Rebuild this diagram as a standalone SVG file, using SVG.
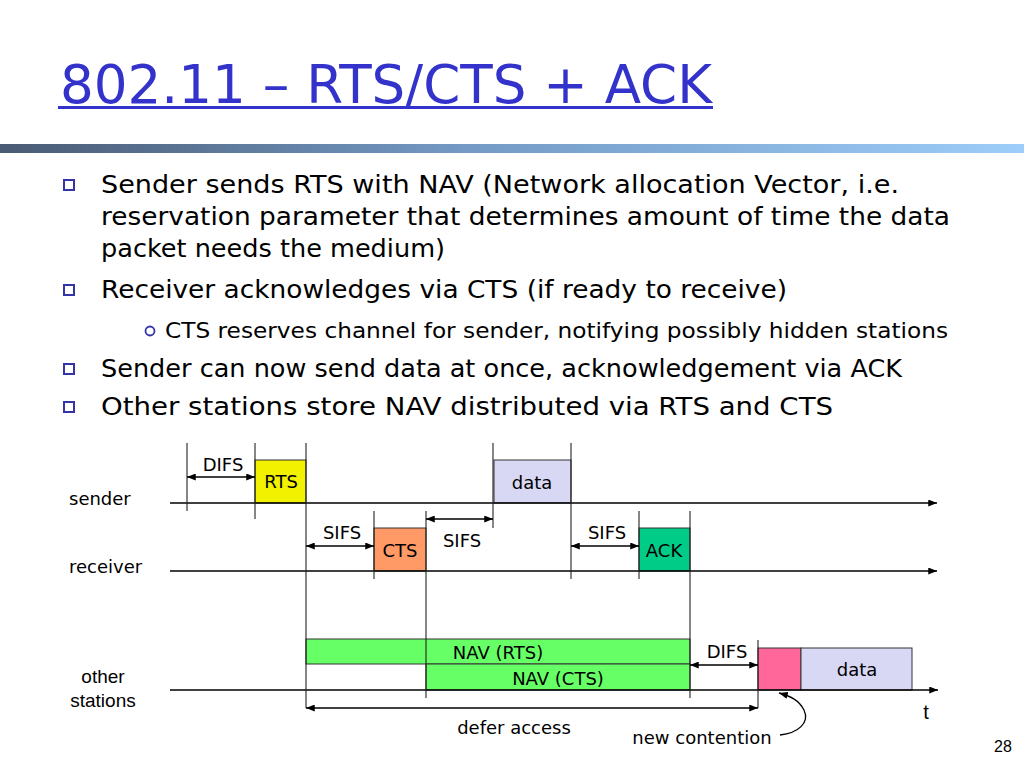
<svg xmlns="http://www.w3.org/2000/svg" width="1024" height="768" viewBox="0 0 1024 768">
<defs>
<linearGradient id="bar" x1="0" y1="0" x2="1" y2="0">
<stop offset="0" stop-color="#4A5B74"/>
<stop offset="0.45" stop-color="#7399C4"/>
<stop offset="1" stop-color="#9DCDFA"/>
</linearGradient>
<marker id="ah" viewBox="0 0 10 8" refX="10" refY="4" markerWidth="9" markerHeight="7" markerUnits="userSpaceOnUse" orient="auto-start-reverse">
<path d="M0,0 L10,4 L0,8 z" fill="#000"/>
</marker>
<style>
.c{font-family:"DejaVu Sans","Noto Sans",sans-serif;fill:#000}
.a{font-family:"Liberation Sans",Arial,sans-serif;fill:#000}
.b{font-size:25px}
.s{font-size:22px}
.l{font-size:18px}
.ln{stroke:#000;stroke-width:1.3;fill:none}
.v{stroke:#222;stroke-width:1.1;fill:none}
.box{stroke:#333;stroke-width:1}
.sq{fill:#fff;stroke:#3333AA;stroke-width:2}
</style>
</defs>
<rect width="1024" height="768" fill="#fff"/>
<g id="title">
<text x="60" y="103" font-family="DejaVu Sans,sans-serif" font-size="54" fill="#3333CC" textLength="652" lengthAdjust="spacingAndGlyphs">802.11 – RTS/CTS + ACK</text>
<rect x="58" y="106" width="655" height="3" fill="#3333CC"/>
</g>
<rect id="band" x="0" y="144" width="1024" height="9" fill="url(#bar)"/>
<g id="bullets">
<rect class="sq" x="64" y="180" width="10" height="10"/>
<text class="c b" x="101" y="193" textLength="798" lengthAdjust="spacingAndGlyphs">Sender sends RTS with NAV (Network allocation Vector, i.e.</text>
<text class="c b" x="101" y="225" textLength="849" lengthAdjust="spacingAndGlyphs">reservation parameter that determines amount of time the data</text>
<text class="c b" x="101" y="257" textLength="344" lengthAdjust="spacingAndGlyphs">packet needs the medium)</text>
<rect class="sq" x="64" y="285" width="10" height="10"/>
<text class="c b" x="101" y="298" textLength="686" lengthAdjust="spacingAndGlyphs">Receiver acknowledges via CTS (if ready to receive)</text>
<circle cx="150" cy="331" r="4.5" fill="#fff" stroke="#3333AA" stroke-width="1.8"/>
<text class="c s" x="165" y="338" textLength="783" lengthAdjust="spacingAndGlyphs">CTS reserves channel for sender, notifying possibly hidden stations</text>
<rect class="sq" x="64" y="364" width="10" height="10"/>
<text class="c b" x="101" y="377" textLength="801" lengthAdjust="spacingAndGlyphs">Sender can now send data at once, acknowledgement via ACK</text>
<rect class="sq" x="64" y="402" width="10" height="10"/>
<text class="c b" x="101" y="415" textLength="732" lengthAdjust="spacingAndGlyphs">Other stations store NAV distributed via RTS and CTS</text>
</g>
<g id="row-labels">
<text class="c l" x="69" y="505">sender</text>
<text class="c l" x="69" y="573">receiver</text>
<text class="a" font-size="19" x="103" y="683" text-anchor="middle">other</text>
<text class="a" font-size="19" x="103" y="707" text-anchor="middle">stations</text>
<text class="a" font-size="20" x="926" y="719" text-anchor="middle">t</text>
<text class="a" font-size="16" x="1003" y="752" text-anchor="middle">28</text>
</g>
<g id="frames">
<g id="nav-rts"><rect class="box" x="306" y="639" width="384" height="25" fill="#66FF66"/>
<text class="c l" x="498" y="659" text-anchor="middle">NAV (RTS)</text></g>
<g id="nav-cts"><rect class="box" x="426" y="664" width="264" height="26" fill="#66FF66"/>
<text class="c l" x="558" y="685" text-anchor="middle">NAV (CTS)</text></g>
<g id="rts"><rect class="box" x="255" y="460" width="51" height="43" fill="#F2F200"/>
<text class="c l" x="281" y="488" text-anchor="middle">RTS</text></g>
<g id="data1"><rect class="box" x="494" y="460" width="77" height="43" fill="#D8D8F4"/>
<text class="c l" x="532" y="489" text-anchor="middle">data</text></g>
<g id="cts"><rect class="box" x="374" y="528" width="52" height="43" fill="#FF9966"/>
<text class="c l" x="400" y="557" text-anchor="middle">CTS</text></g>
<g id="ack"><rect class="box" x="639" y="528" width="51" height="43" fill="#00CC88"/>
<text class="c l" x="664" y="557" text-anchor="middle">ACK</text></g>
<g id="contention"><rect class="box" x="758" y="648" width="43" height="42" fill="#FF6699"/></g>
<g id="data2"><rect class="box" x="801" y="648" width="111" height="42" fill="#D8D8F4"/>
<text class="c l" x="857" y="676" text-anchor="middle">data</text></g>
</g>
<g id="connectors">
<line class="ln" x1="170" y1="503" x2="937" y2="503" marker-end="url(#ah)"/>
<line class="ln" x1="170" y1="571" x2="937" y2="571" marker-end="url(#ah)"/>
<line class="ln" x1="170" y1="690" x2="938" y2="690" marker-end="url(#ah)"/>
<line class="v" x1="187" y1="443" x2="187" y2="511"/>
<line class="v" x1="255" y1="443" x2="255" y2="519"/>
<line class="v" x1="306" y1="443" x2="306" y2="708"/>
<line class="v" x1="374" y1="511" x2="374" y2="579"/>
<line class="v" x1="426" y1="511" x2="426" y2="698"/>
<line class="v" x1="493" y1="443" x2="493" y2="528"/>
<line class="v" x1="571" y1="443" x2="571" y2="579"/>
<line class="v" x1="639" y1="511" x2="639" y2="579"/>
<line class="v" x1="690" y1="511" x2="690" y2="698"/>
<line class="v" x1="758" y1="640" x2="758" y2="708"/>
<line class="ln" x1="187" y1="477" x2="255" y2="477" marker-start="url(#ah)" marker-end="url(#ah)"/>
<line class="ln" x1="306" y1="546" x2="374" y2="546" marker-start="url(#ah)" marker-end="url(#ah)"/>
<line class="ln" x1="426" y1="519" x2="493" y2="519" marker-start="url(#ah)" marker-end="url(#ah)"/>
<line class="ln" x1="571" y1="546" x2="639" y2="546" marker-start="url(#ah)" marker-end="url(#ah)"/>
<line class="ln" x1="690" y1="665" x2="758" y2="665" marker-start="url(#ah)" marker-end="url(#ah)"/>
<line class="ln" x1="306" y1="708" x2="758" y2="708" marker-start="url(#ah)" marker-end="url(#ah)"/>
<path class="ln" d="M780 735 C 798 733, 810 723, 804 710 C 799 700, 790 696, 779 693" marker-end="url(#ah)"/>
<text class="c l" x="223" y="471" text-anchor="middle">DIFS</text>
<text class="c l" x="342" y="539" text-anchor="middle">SIFS</text>
<text class="c l" x="462" y="547" text-anchor="middle">SIFS</text>
<text class="c l" x="607" y="539" text-anchor="middle">SIFS</text>
<text class="c l" x="727" y="658" text-anchor="middle">DIFS</text>
<text class="c l" x="514" y="734" text-anchor="middle">defer access</text>
<text class="c l" x="702" y="744" text-anchor="middle">new contention</text>
</g>
</svg>
